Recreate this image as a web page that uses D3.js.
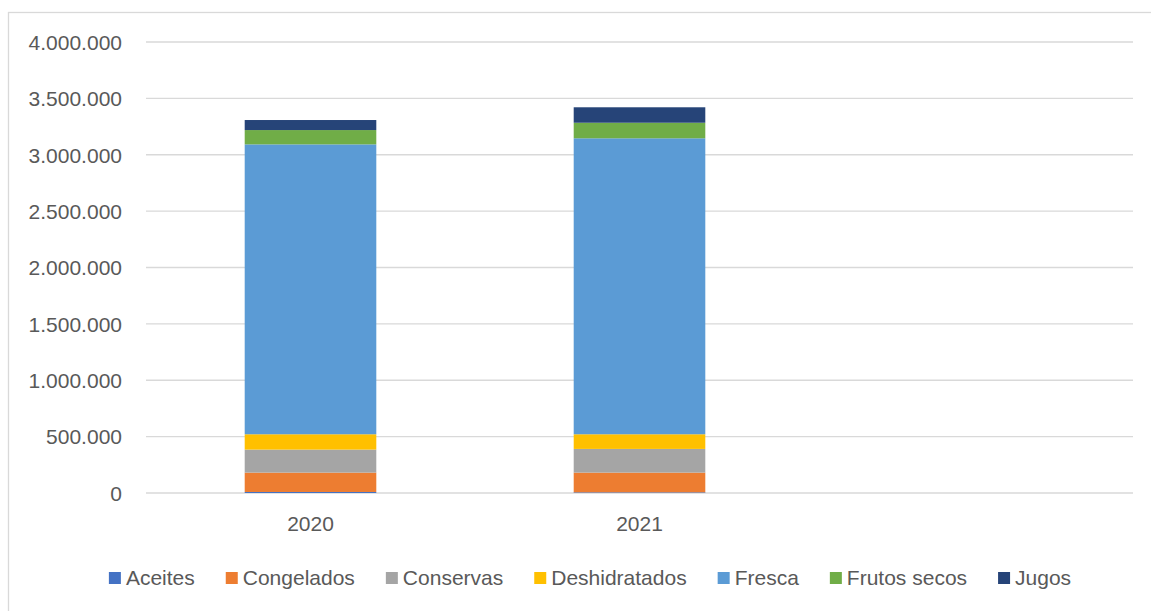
<!DOCTYPE html>
<html>
<head>
<meta charset="utf-8">
<script src="https://cdn.jsdelivr.net/npm/d3@7/dist/d3.min.js"></script>
<style>
  html, body { margin: 0; padding: 0; background: #fff; }
  svg { display: block; }
  text { font-family: "Liberation Sans", Arial, sans-serif; fill: #595959; }
</style>
</head>
<body>
<svg id="chart" width="1151" height="611"></svg>
<script>
const categories = ["2020", "2021", ""];
const seriesNames = ["Aceites", "Congelados", "Conservas", "Deshidratados", "Fresca", "Frutos secos", "Jugos"];
const seriesColors = ["#4472C4", "#ED7D31", "#A5A5A5", "#FFC000", "#5B9BD5", "#70AD47", "#264478"];
const aceites       = [9000, 6000, 0];
const congelados    = [172000, 175000, 0];
const conservas     = [204000, 210000, 0];
const deshidratados = [136000, 130000, 0];
const fresca        = [2571000, 2625000, 0];
const frutosSecos   = [127000, 138000, 0];
const jugos         = [89000, 137000, 0];
const yTicks = [0, 500000, 1000000, 1500000, 2000000, 2500000, 3000000, 3500000, 4000000];

const seriesValues = [aceites, congelados, conservas, deshidratados, fresca, frutosSecos, jugos];
const rows = categories.map((c, i) => {
  const r = { cat: c };
  seriesNames.forEach((s, j) => r[s] = seriesValues[j][i]);
  return r;
});

const svg = d3.select("#chart");
const fontSize = 21;

// chart border
svg.append("rect").attr("x", 8.5).attr("y", 12.5).attr("width", 1160).attr("height", 620)
  .attr("fill", "none").attr("stroke", "#d9d9d9").attr("stroke-width", 1.3);

const plotL = 146, plotR = 1133, plotT = 42, plotB = 493;
const x = d3.scaleBand().domain(categories).range([plotL, plotR]).padding(0);
const y = d3.scaleLinear().domain([0, 4000000]).range([plotB, plotT]);

// gridlines
svg.append("g").selectAll("line").data(yTicks).join("line")
  .attr("x1", plotL).attr("x2", plotR)
  .attr("y1", d => y(d)).attr("y2", d => y(d))
  .attr("stroke", "#d9d9d9").attr("stroke-width", 1.3);

// y axis labels
const fmt = v => d3.format(",")(v).replace(/,/g, ".");
const yAxis = d3.axisLeft(y).tickValues(yTicks).tickFormat(fmt).tickSize(0).tickPadding(0);
const yg = svg.append("g").attr("transform", `translate(122,0)`).call(yAxis);
yg.select(".domain").remove();
yg.selectAll("text").style("font-size", fontSize + "px").attr("fill", "#595959")
  .style("font-family", '"Liberation Sans", Arial, sans-serif').attr("dy", "0.35em");

// stacked bars
const stack = d3.stack().keys(seriesNames);
const stacked = stack(rows);
const barW = x.bandwidth() * 0.40;
svg.append("g").selectAll("g").data(stacked).join("g")
  .attr("fill", (d, i) => seriesColors[i])
  .selectAll("rect").data(d => d.filter(p => p.data.cat !== "")).join("rect")
  .attr("x", d => x(d.data.cat) + (x.bandwidth() - barW) / 2)
  .attr("width", barW)
  .attr("y", d => y(d[1]))
  .attr("height", d => Math.max(0, y(d[0]) - y(d[1])));

// x axis labels
const xAxis = d3.axisBottom(x).tickSize(0).tickPadding(0);
const xg = svg.append("g").attr("transform", `translate(0,524)`).call(xAxis);
xg.select(".domain").remove();
xg.selectAll("text").style("font-size", fontSize + "px").attr("fill", "#595959")
  .style("font-family", '"Liberation Sans", Arial, sans-serif').attr("dy", "0.35em").attr("y", 0);

// legend
const legend = svg.append("g");
const items = legend.selectAll("g").data(seriesNames).join("g");
items.append("rect").attr("width", 12).attr("height", 12).attr("y", -6)
  .attr("fill", (d, i) => seriesColors[i]);
items.append("text").attr("x", 17).attr("dy", "0.35em").style("font-size", fontSize + "px")
  .text(d => d);
const widths = [];
items.each(function() { widths.push(17 + this.querySelector("text").getComputedTextLength()); });
const gap = 31;
const total = d3.sum(widths) + gap * (widths.length - 1);
let start = 590 - total / 2;
items.attr("transform", (d, i) => {
  const t = `translate(${start},578)`;
  start += widths[i] + gap;
  return t;
});
</script>
</body>
</html>
